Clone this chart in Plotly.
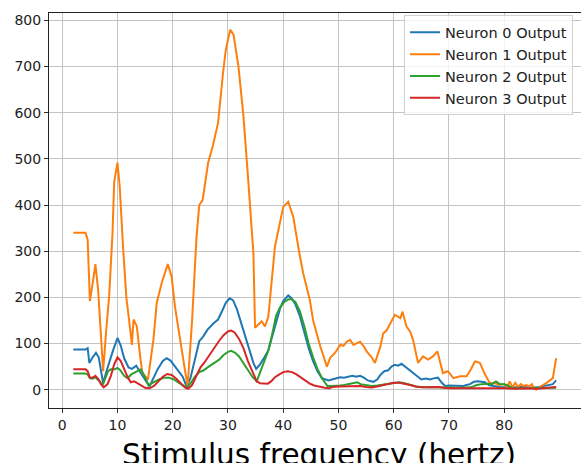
import plotly.graph_objects as go

# Neuron 1 (orange)
n1_x = [2, 4.2, 4.6, 5.0, 5.5, 6.0, 6.5, 7.0, 7.4, 7.9, 8.5, 9.1, 9.4, 10.0, 10.4, 11.0, 11.6, 12.3, 12.6, 12.9,
        13.5, 14.1, 14.5, 15.5, 16.5, 17.1, 18.0, 19.1, 19.8, 20.4, 21.3, 22.2, 22.7, 23.5, 24.3, 24.8, 25.4, 26.4,
        27.3, 28.2, 29.1, 29.6, 30.4, 31.0, 31.9, 32.8, 33.7, 34.6, 34.9, 35.5, 36.1, 36.7, 37.3, 38.5, 40.0, 40.9,
        41.8, 43.0, 43.6, 44.8, 45.4, 46.7, 47.9, 48.5, 49.4, 50.3, 50.9, 51.5, 52.1, 52.7, 53.3, 53.9, 54.5, 55.1,
        56.0, 56.6, 57.5, 58.1, 58.7, 59.5, 60.2, 60.8, 61.2, 61.6, 62.3, 63.0, 63.5, 64.4, 65.3, 66.2, 67.1, 67.9,
        68.9, 69.8, 70.8, 72.0, 73.2, 74.0, 74.7, 75.6, 76.4, 77.4, 78.2, 79.0, 80.0, 80.5, 81.0, 81.5, 82.0, 82.5,
        83.0, 83.5, 84.0, 84.5, 85.0, 85.4, 85.8, 86.7, 87.6, 88.8, 89.4]
n1_y = [340, 340, 325, 192, 230, 272, 215, 110, 40, 120, 205, 340, 450, 492, 440, 310, 200, 130, 97, 152,
        137, 72, 36, 22, 108, 188, 231, 272, 245, 180, 108, 43, 8, 150, 330, 400, 410, 491,
        530, 578, 686, 736, 780, 769, 700, 592, 448, 295, 134, 140, 148, 137, 158, 310, 396, 407,
        375, 290, 253, 195, 151, 94, 50, 69, 80, 97, 95, 104, 108, 97, 100, 104, 95, 83,
        70, 58, 90, 122, 128, 145, 162, 158, 155, 169, 137, 125, 108, 58, 72, 65, 72, 83,
        36, 40, 25, 29, 29, 45, 61, 58, 36, 14, 15, 10, 12, 5, 18, 5, 15, 6,
        12, 8, 10, 7, 12, 2, 0, 8, 14, 25, 68]

# Neuron 0 (blue)
n0_x = [2, 4.2, 4.6, 4.9, 5.5, 6.1, 6.6, 7.0, 7.4, 8.0, 8.6, 9.2, 10.0, 10.6, 11.2, 12.0, 12.6, 13.4, 14.0, 14.8,
        15.8, 16.5, 17.3, 18.2, 18.9, 19.6, 20.3, 21.0, 21.8, 22.5, 23.2, 24.0, 24.8, 25.5, 26.3, 27.4, 28.2, 29.0,
        29.6, 30.3, 30.9, 31.6, 32.4, 33.2, 34.0, 34.6, 35.1, 35.8, 36.6, 37.3, 38.0, 38.7, 39.4, 40.0, 40.9, 41.5,
        42.2, 43.0, 43.8, 44.6, 45.4, 46.2, 47.0, 48.2, 48.8, 49.5, 50.3, 51.0, 51.8, 52.5, 53.2, 53.9, 54.6, 55.3,
        56.3, 57.0, 57.6, 58.3, 59.0, 59.6, 60.2, 60.8, 61.4, 62.0, 62.7, 63.4, 64.4, 65.0, 65.8, 66.6, 67.4, 68.0,
        68.7, 69.3, 70.0, 71.0, 72.0, 72.6, 73.2, 73.8, 74.5, 75.2, 75.9, 76.5, 77.2, 78.0, 79.0, 80.0, 81.0, 82.0,
        83.0, 84.0, 85.0, 86.0, 87.0, 88.0, 88.8, 89.4]
n0_y = [87, 87, 90, 58, 70, 80, 70, 40, 14, 40, 65, 85, 112, 95, 68, 48, 45, 52, 40, 25,
        7, 25, 45, 62, 68, 63, 52, 40, 28, 7, 25, 65, 105, 115, 130, 144, 152, 172,
        188, 198, 194, 175, 145, 110, 80, 58, 45, 55, 70, 85, 115, 148, 175, 192, 204, 198,
        185, 160, 125, 90, 62, 40, 25, 20, 22, 24, 27, 26, 29, 30, 28, 30, 26, 20,
        17, 22, 32, 40, 42, 50, 54, 52, 56, 50, 44, 38, 28, 22, 24, 22, 25, 26,
        15, 8, 9, 8, 7, 8, 10, 12, 17, 18, 17, 16, 10, 8, 6, 5, 4, 5,
        6, 5, 4, 5, 7, 10, 12, 20]

# Neuron 2 (green)
n2_x = [2, 4.2, 4.6, 5.0, 5.5, 6.0, 6.6, 7.3, 7.8, 8.3, 8.8, 9.5, 10.0, 10.5, 11.2, 11.8, 12.5, 13.2, 14.2, 14.8,
        15.6, 16.5, 17.5, 18.5, 19.3, 20.2, 21.0, 21.8, 22.5, 23.3, 24.0, 24.8, 25.6, 26.5, 27.5, 28.4, 29.2, 30.0,
        30.6, 31.3, 32.0, 32.8, 33.6, 34.4, 35.2, 35.8, 36.5, 37.3, 38.0, 38.7, 39.4, 40.2, 41.0, 41.5, 42.2, 43.0,
        43.8, 44.6, 45.4, 46.2, 47.0, 48.0, 48.8, 49.5, 50.3, 51.0, 52.0, 52.8, 53.4, 54.0, 55.0, 56.0, 57.0, 58.0,
        59.0, 60.0, 61.0, 62.0, 63.0, 64.0, 65.0, 66.0, 68.0, 70.0, 72.0, 74.0, 75.0, 76.0, 77.0, 77.8, 78.5, 79.2,
        80.0, 80.7, 81.5, 83.0, 85.0, 87.0, 89.4]
n2_y = [35, 35, 33, 25, 24, 27, 20, 10, 25, 40, 44, 44, 47, 42, 30, 25, 33, 38, 44, 32,
        10, 16, 22, 26, 26, 22, 16, 10, 4, 15, 28, 38, 42, 50, 57, 65, 75, 82,
        84, 80, 72, 58, 44, 28, 18, 38, 58, 85, 120, 160, 178, 190, 196, 196, 190, 170,
        138, 100, 70, 45, 25, 8, 8, 8, 9, 10, 12, 14, 16, 12, 10, 8, 9, 11,
        13, 15, 16, 14, 10, 7, 6, 5, 5, 4, 4, 5, 10, 12, 13, 12, 18, 12,
        12, 9, 3, 3, 3, 3, 4]

# Neuron 3 (red)
n3_x = [2, 4.2, 4.6, 5.0, 5.5, 6.0, 6.6, 7.0, 7.5, 8.2, 8.8, 9.4, 10.0, 10.6, 11.2, 11.8, 12.4, 13.0, 13.6, 14.3,
        15.0, 15.8, 16.6, 17.4, 18.2, 19.0, 19.8, 20.6, 21.4, 22.2, 22.8, 23.5, 24.2, 25.0, 25.8, 26.6, 27.5, 28.4,
        29.2, 30.0, 30.6, 31.2, 32.0, 32.8, 33.6, 34.4, 35.2, 35.8, 36.6, 37.2, 37.8, 38.5, 39.3, 40.0, 40.8, 41.6,
        42.4, 43.2, 44.0, 44.8, 45.6, 46.6, 47.5, 48.3, 49, 50, 51, 52, 53, 54, 55, 56, 57, 58,
        59, 60, 61, 62, 63, 64, 65, 66, 67, 68, 69, 70, 72, 74, 76, 78, 80, 82,
        84, 86, 88, 89.4]
n3_y = [44, 44, 40, 26, 26, 30, 22, 12, 5, 12, 30, 55, 70, 62, 45, 28, 16, 18, 14, 8,
        4, 3, 8, 18, 28, 34, 32, 24, 14, 5, 2, 10, 28, 48, 60, 75, 90, 106,
        118, 126, 128, 124, 110, 90, 62, 38, 18, 14, 13, 13, 18, 27, 33, 38, 40, 38,
        33, 26, 19, 13, 9, 6, 4, 3, 6, 7, 7, 8, 8, 8, 6, 5, 7, 10,
        13, 15, 15, 13, 10, 7, 5, 5, 5, 6, 4, 3, 3, 3, 4, 4, 3, 2,
        3, 2, 4, 6]

x_ticks = [0, 10, 20, 30, 40, 50, 60, 70, 80]
y_ticks = [0, 100, 200, 300, 400, 500, 600, 700, 800]

series = [
    ("Neuron 0 Output", n0_x, n0_y, "#1f77b4"),
    ("Neuron 1 Output", n1_x, n1_y, "#ff7f0e"),
    ("Neuron 2 Output", n2_x, n2_y, "#2ca02c"),
    ("Neuron 3 Output", n3_x, n3_y, "#d62728"),
]

fig = go.Figure()
for name, xs, ys, col in series:
    fig.add_trace(go.Scatter(x=xs, y=ys, mode="lines", name=name,
                             line=dict(color=col, width=2)))

font_family = "DejaVu Sans"
fig.update_layout(
    width=581, height=463,
    margin=dict(l=49, r=0, t=13, b=55),
    paper_bgcolor="white", plot_bgcolor="white",
    font=dict(family=font_family, size=14, color="#222"),
    showlegend=True,
    legend=dict(x=0.985, y=0.994, xanchor="right", yanchor="top",
                bgcolor="rgba(255,255,255,0.8)", bordercolor="#d0d0d0", borderwidth=1,
                font=dict(family=font_family, size=14.5, color="#222")),
)
fig.update_xaxes(range=[-2.4, 93.9], tickvals=x_ticks, ticks="outside", ticklen=4,
                 tickcolor="#333", showgrid=True, gridcolor="#c4c4c4", gridwidth=1,
                 showline=True, linecolor="#222", linewidth=1, mirror=True, zeroline=False,
                 tickfont=dict(size=14))
fig.update_yaxes(range=[-39.7, 816], tickvals=y_ticks, ticks="outside", ticklen=4,
                 tickcolor="#333", showgrid=True, gridcolor="#c4c4c4", gridwidth=1,
                 showline=True, linecolor="#222", linewidth=1, zeroline=False,
                 tickfont=dict(size=14))
fig.add_annotation(text="Stimulus frequency (hertz)", xref="paper", yref="paper",
                   x=0.5066, y=-0.072, xanchor="center", yanchor="top", showarrow=False,
                   font=dict(family=font_family, size=29.5, color="black"))

fig.write_html("out.html")
